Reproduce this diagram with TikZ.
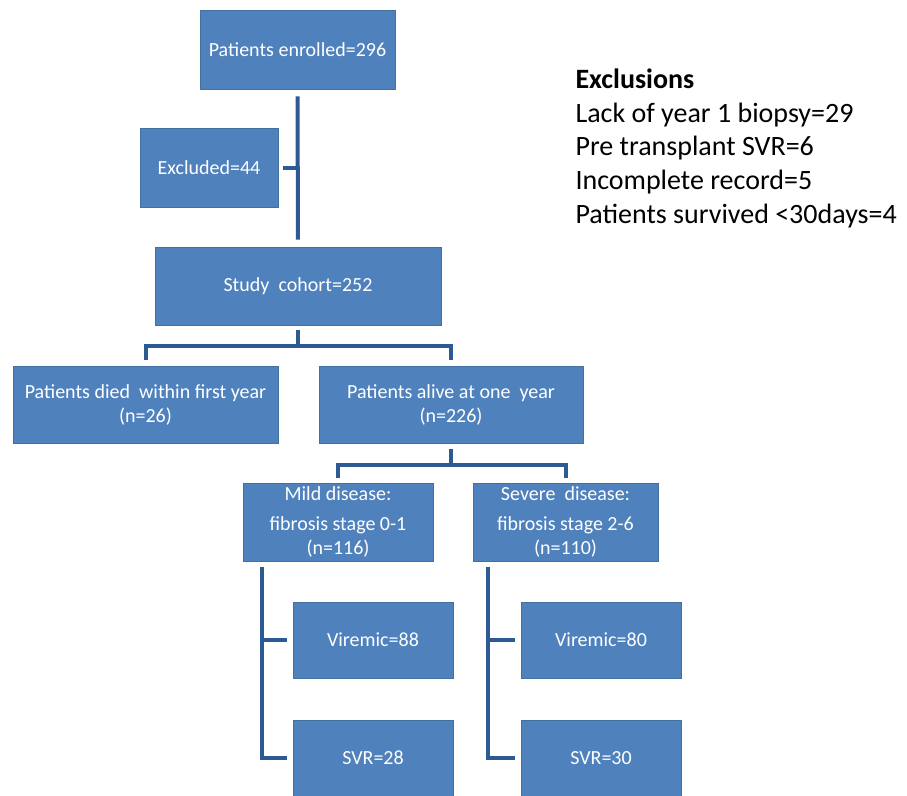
\documentclass[tikz,border=0pt]{standalone}
\usepackage{fontspec}
\setmainfont{Carlito}
\definecolor{boxfill}{HTML}{4F81BD}
\definecolor{boxline}{HTML}{41719C}
\definecolor{linkblue}{HTML}{2E5A94}
\newcommand\boxfont{\fontsize{20}{24}\selectfont}
\newcommand\exfont{\fontsize{28}{34}\selectfont}
\tikzset{
  box/.style={draw=boxline, line width=0.8pt, fill=boxfill, text=white,
    font=\boxfont, align=center, inner sep=0pt},
  link/.style={draw=linkblue, line width=4pt},
}
\begin{document}
\begin{tikzpicture}[x=1pt,y=-1pt]

\useasboundingbox (0,0) rectangle (907,795);

\node[box, minimum width=195pt, minimum height=79pt] (enrolled) at (297.5,49.5)
{Patients enrolled=296};

\node[box, minimum width=138pt, minimum height=79pt] (excluded) at (209,167.5)
{Excluded=44};

\node[box, minimum width=286pt, minimum height=78pt] (cohort) at (298,286)
{Study~ cohort=252};

\node[box, minimum width=265pt, minimum height=77pt] (died) at (145.5,404.5)
{Patients died~ within first year\\(n=26)};

\node[box, minimum width=264pt, minimum height=77pt] (alive) at (451,404.5)
{Patients alive at one~ year\\(n=226)};

\node[box, minimum width=190pt, minimum height=78pt] (mild) at (338,522)
{Mild disease:\\[6pt]fibrosis stage 0-1\\(n=116)};

\node[box, minimum width=185pt, minimum height=78pt] (severe) at (565.5,522)
{Severe~ disease:\\[6pt]fibrosis stage 2-6\\(n=110)};

\node[box, minimum width=160pt, minimum height=76pt] (viremicA) at (373,640)
{Viremic=88};

\node[box, minimum width=160pt, minimum height=76pt] (svrA) at (373,758)
{SVR=28};

\node[box, minimum width=160pt, minimum height=76pt] (viremicB) at (601,640)
{Viremic=80};

\node[box, minimum width=160pt, minimum height=76pt] (svrB) at (601,758)
{SVR=30};

\node[anchor=base west, font=\exfont] (exhead) at (572,88.5)
{\textbf{Exclusions}};
\node[anchor=base west, font=\exfont] (exbiopsy) at (572,122.2)
{Lack of year 1 biopsy=29};
\node[anchor=base west, font=\exfont] (exsvr) at (572,155.9)
{Pre transplant SVR=6};
\node[anchor=base west, font=\exfont] (exrecord) at (572,189.6)
{Incomplete record=5};
\node[anchor=base west, font=\exfont] (exdays) at (572,223.3)
{Patients survived <30days=4};

\coordinate (splitA) at (298,346);
\coordinate (splitB) at (451,465);

\draw[link, shorten <=7pt, shorten >=7pt]
(enrolled.south)
--
(cohort.north);

\draw[link, shorten <=5pt]
(excluded.east)
--
(excluded.east -| enrolled.south);

\draw[link, shorten <=5pt]
(cohort.south)
--
(splitA);

\draw[link, shorten <=6pt, shorten >=6pt]
(died.north)
|-
(splitA)
-|
(alive.north);

\draw[link, shorten <=6pt]
(alive.south)
--
(splitB);

\draw[link, shorten <=5pt, shorten >=5pt]
(mild.north)
|-
(splitB)
-|
(severe.north);

\draw[link]
([xshift=19pt,yshift=-6pt]mild.south west)
|-
([xshift=-6pt]viremicA.west);

\draw[link]
([xshift=19pt,yshift=-6pt]mild.south west)
|-
([xshift=-6pt]svrA.west);

\draw[link]
([xshift=15pt,yshift=-6pt]severe.south west)
|-
([xshift=-6pt]viremicB.west);

\draw[link]
([xshift=15pt,yshift=-6pt]severe.south west)
|-
([xshift=-6pt]svrB.west);

\end{tikzpicture}
\end{document}
